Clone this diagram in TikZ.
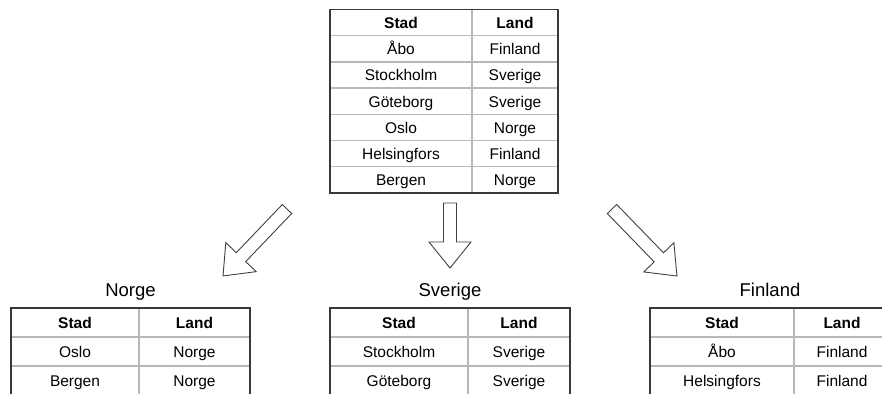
\documentclass[tikz,border=0pt]{standalone}
\usepackage{fontspec}
\setmainfont{Liberation Sans}
\usetikzlibrary{calc,positioning}

\begin{document}
\begin{tikzpicture}[x=1pt,y=-1pt,
cell/.style={anchor=base, inner sep=0pt, font=\fontsize{15.5}{18}\selectfont},
head/.style={cell, font=\fontsize{15.5}{18}\selectfont\bfseries},
caption/.style={anchor=base, inner sep=0pt, font=\fontsize{18.5}{22}\selectfont},
frame/.style={draw=black!78, line width=1.3pt},
grid/.style={draw=black!28, line width=1.3pt},
blockarrow/.style={draw=black!75, line width=0.9pt, fill=white, line join=miter}]

\useasboundingbox (0,0) rectangle (882,393);
\clip (0,0) rectangle (882,393);

%% local variables
\def \rowh {26.2}
\def \top {9.5}
\def \subh {29}
\def \subtop {308}

%% source table
\node[head] (T-s-0) at (401,{\top + 0.5*\rowh + 6}) {Stad};
\node[head] (T-l-0) at (515,{\top + 0.5*\rowh + 6}) {Land};
\foreach \s/\l [count=\i] in {Åbo/Finland, Stockholm/Sverige, Göteborg/Sverige,
                              Oslo/Norge, Helsingfors/Finland, Bergen/Norge} {
      \node[cell] (T-s-\i) at (401,{\top + (\i+0.5)*\rowh + 6}) {\s};
      \node[cell] (T-l-\i) at (515,{\top + (\i+0.5)*\rowh + 6}) {\l};
}
\foreach \i in {1,...,6}
      \draw[grid] (330,{\top + \i*\rowh}) -- (558,{\top + \i*\rowh});
\draw[grid] (472,\top) -- (472,{\top + 7*\rowh});
\draw[frame] (330,\top) rectangle (558,{\top + 7*\rowh});

%% block arrows
\foreach \x/\y/\a/\l in {287/209/-133.7/92.6, 450/203/-90/65, 612/209/-45.9/93.3}
      \draw[blockarrow, shift={(\x,\y)}, rotate=\a]
            (0,-6.5) -- ({\l-26},-6.5) -- ({\l-26},-21) -- (\l,0)
            -- ({\l-26},21) -- ({\l-26},6.5) -- (0,6.5) -- cycle;

%% result tables
\foreach \t/\a/\b/\c/\s/\u/\v in {N/11/139/250/Norge/Oslo/Bergen,
                                  S/330/468/570/Sverige/Stockholm/Göteborg,
                                  F/650/794/890/Finland/Åbo/Helsingfors} {
      \node[caption] (\t-title) at ({(\a+\c)/2},296) {\s};
      \node[head] (\t-s-0) at ({(\a+\b)/2},{\subtop + 0.5*\subh + 6}) {Stad};
      \node[head] (\t-l-0) at ({(\b+\c)/2},{\subtop + 0.5*\subh + 6}) {Land};
      \node[cell] (\t-s-1) at ({(\a+\b)/2},{\subtop + 1.5*\subh + 6}) {\u};
      \node[cell] (\t-l-1) at ({(\b+\c)/2},{\subtop + 1.5*\subh + 6}) {\s};
      \node[cell] (\t-s-2) at ({(\a+\b)/2},{\subtop + 2.5*\subh + 6}) {\v};
      \node[cell] (\t-l-2) at ({(\b+\c)/2},{\subtop + 2.5*\subh + 6}) {\s};
      \draw[grid] (\a,{\subtop + \subh}) -- (\c,{\subtop + \subh});
      \draw[grid] (\a,{\subtop + 2*\subh}) -- (\c,{\subtop + 2*\subh});
      \draw[grid] (\b,\subtop) -- (\b,{\subtop + 3*\subh});
      \draw[frame] (\a,\subtop) rectangle (\c,{\subtop + 3*\subh});
}

\end{tikzpicture}
\end{document}
